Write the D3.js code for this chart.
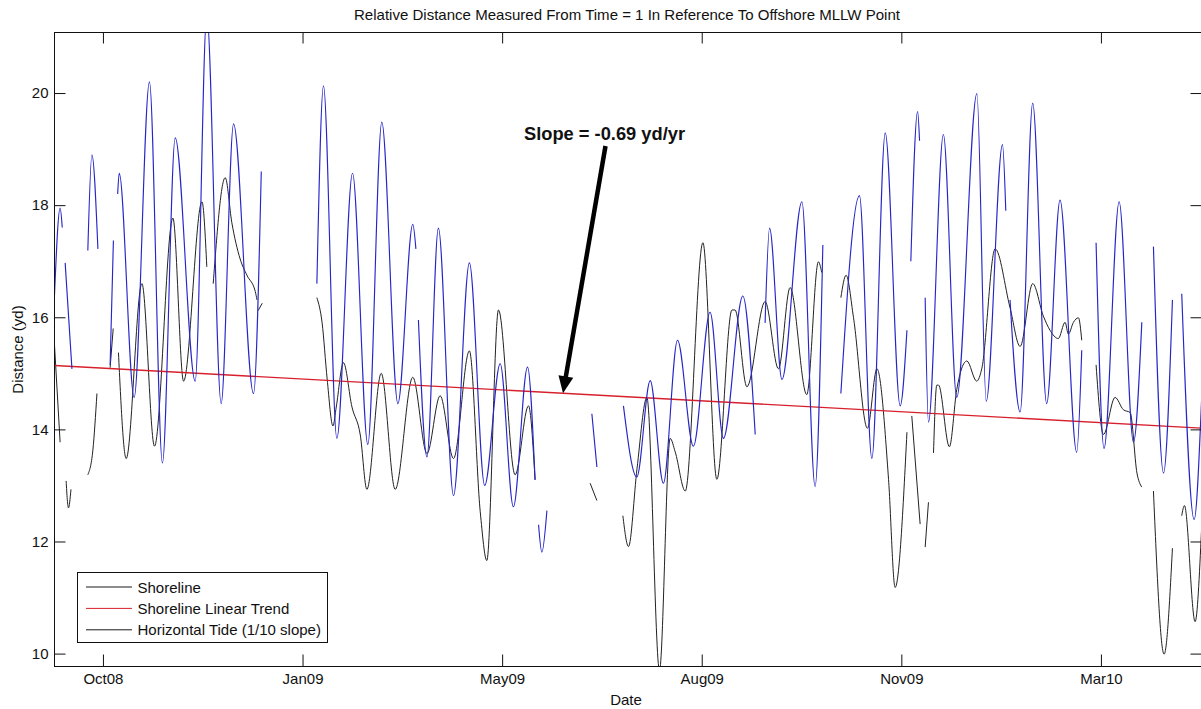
<!DOCTYPE html>
<html>
<head>
<meta charset="utf-8">
<script src="https://cdn.jsdelivr.net/npm/d3@7"></script>
<style>
  body { margin: 0; background: #fff; }
  svg { display: block; }
  text { font-family: "Liberation Sans", Arial, Helvetica, sans-serif; fill: #111; }
</style>
</head>
<body>
<svg id="chart" width="1201" height="709"></svg>
<script>
// ---- data -----------------------------------------------------------------
// Time axis: days since 17 Sep 2008 (start of record)
const recordStart = new Date(2008, 8, 17);
const recordEndDay = 591.9;

// Tick positions (days since start) – labelled with month/year
const xTickDays = [25, 128, 231, 334, 437, 540];
const yTickValues = [10, 12, 14, 16, 18, 20];
const yDomain = [9.77, 21.08];

// Horizontal tide (1/10 slope); null marks a gap in the record
const tideDays = [
  0.0, 2.9, 4.0, null,
  5.5, 9.0, null,
  17.2, 19.3, 22.4, null,
  28.7, 30.4, null,
  32.6, 33.4, 41.1, 49.0, 55.7, 62.3, 72.6, 78.6, 86.0, 92.4, 102.7, 106.7, null,
  135.4, 138.8, 145.7, 153.8, 161.7, 168.9, 177.2, 184.9, 186.5, null,
  187.8, 192.2, 198.1, 205.9, 214.1, 222.0, 230.0, 236.8, 244.1, 248.0, null,
  249.8, 251.5, 254.1, null,
  277.3, 279.9, null,
  293.6, 300.5, 307.4, 314.2, 321.5, 329.7, 338.3, 345.2, 355.2, 361.6, null,
  366.7, 369.0, 375.4, 385.7, 392.5, 396.5, null,
  405.8, 415.4, 421.8, 428.7, 436.4, 439.9, null,
  441.9, 445.4, 446.4, null,
  449.3, 451.0, 458.7, 465.6, 476.0, 480.8, 489.2, 490.9, null,
  493.1, 498.3, 504.8, 512.0, 518.9, 527.5, 530.1, null,
  537.5, 541.6, 549.4, 556.8, 561.1, null,
  567.1, 572.3, 576.9, null,
  581.7, 588.1, 591.9
];
const tideValues = [
  16.4, 17.95, 17.6, null,
  16.97, 15.08, null,
  17.19, 18.9, 17.22, null,
  15.15, 17.37, null,
  18.2, 18.57, 14.57, 20.2, 13.4, 19.2, 14.86, 21.4, 14.46, 19.45, 14.64, 18.6, null,
  16.6, 20.13, 13.84, 18.57, 13.73, 19.48, 14.46, 17.66, 17.22, null,
  15.95, 13.51, 17.59, 12.82, 16.97, 13.0, 15.17, 12.62, 15.11, 13.1, null,
  12.3, 11.81, 12.55, null,
  14.28, 13.33, null,
  14.42, 13.15, 14.87, 13.04, 15.59, 13.7, 16.09, 13.84, 16.38, 13.91, null,
  15.9, 17.59, 14.89, 18.06, 12.98, 17.29, null,
  14.64, 18.17, 13.48, 19.29, 14.42, 15.77, null,
  17.0, 19.67, 19.15, null,
  16.35, 14.13, 19.26, 14.57, 19.99, 14.5, 19.08, 17.9, null,
  16.31, 14.31, 19.82, 14.46, 18.09, 13.59, 15.41, null,
  17.33, 13.66, 18.06, 13.77, 15.91, null,
  17.26, 13.22, 16.31, null,
  16.42, 12.39, 14.5
];

// Shoreline position; null marks a gap in the record
const shoreDays = [
  0.0, 2.9, null,
  6.0, 7.2, 8.5, null,
  17.2, 19.8, 21.9, null,
  28.7, 30.3, null,
  33.0, 37.0, 45.1, 51.6, 61.1, 66.6, 76.1, 78.6, null,
  81.9, 88.1, 91.5, 95.8, 99.3, 103.6, 104.5, null,
  105.1, 107.2, null,
  135.4, 138.1, 140.7, 143.7, 145.4, 149.1, 153.5, 157.8, 161.2, 168.6, 175.8, 184.9,
  192.2, 199.0, 205.9, 214.1, 219.7, 223.1, 229.1, 237.7, 244.6, 248.0, null,
  276.4, 279.9, null,
  293.3, 296.2, 300.6, 305.7, 312.2, 317.7, 320.3, 325.5, 334.6, 341.8, 349.6, 351.2,
  357.3, 366.7, 373.6, 379.6, 388.2, 394.2, 395.9, null,
  405.8, 408.5, 412.3, 419.5, 424.4, 430.4, 433.8, 439.9, null,
  442.4, 446.7, null,
  449.3, 451.0, null,
  453.6, 455.3, 456.2, 461.8, 465.6, 470.8, 475.9, 478.5, 485.4, 493.1, 498.3, 504.8,
  510.3, 513.7, 518.0, 521.5, 523.2, 525.8, 528.4, 530.1, null,
  537.5, 541.3, 547.3, 551.6, 555.1, 558.6, 561.1, null,
  567.1, 572.6, 576.9, null,
  581.7, 583.1, 588.6, 591.9
];
const shoreValues = [
  15.5, 13.77, null,
  13.08, 12.6, 12.93, null,
  13.19, 13.63, 14.64, null,
  15.1, 15.8, null,
  15.37, 13.48, 16.6, 13.7, 17.77, 14.86, 18.06, 16.9, null,
  16.6, 18.49, 17.69, 17.04, 16.75, 16.46, 16.31, null,
  16.12, 16.25, null,
  16.35, 15.9, 14.9, 14.06, 14.4, 15.19, 14.4, 13.9, 12.93, 15.0, 12.93, 14.93,
  13.57, 14.6, 13.48, 15.4, 12.53, 11.66, 16.13, 13.19, 14.42, 13.1, null,
  13.04, 12.73, null,
  12.46, 11.91, 13.3, 14.57, 9.7, 13.84, 13.6, 12.9, 17.33, 13.11, 16.13, 16.13,
  14.76, 16.28, 15.08, 16.53, 14.62, 16.99, 16.8, null,
  16.35, 16.75, 16.0, 14.02, 15.08, 13.11, 11.18, 13.95, null,
  14.24, 12.31, null,
  11.9, 12.7, null,
  13.58, 14.79, 14.79, 13.69, 14.71, 15.22, 14.86, 15.08, 17.22, 16.17, 15.48, 16.6,
  16.02, 15.77, 15.62, 15.91, 15.7, 15.91, 15.99, 15.59, null,
  15.15, 13.91, 14.57, 14.35, 14.3, 13.22, 12.97, null,
  12.9, 9.99, 11.88, null,
  12.46, 12.64, 10.57, 12.2
];

// Linear trend of the shoreline: intercept at record start and slope (yd/yr)
const trendIntercept = 15.14;
const trendSlope = -0.69;
const trendDays = [0, recordEndDay];
const trendValues = trendDays.map(d => trendIntercept + trendSlope * d / 365.25);

// Annotation: the arrow points at the trend line on this day
const arrowDay = 262.4;
const slopeLabel = "Slope = -0.69 yd/yr";

const legendLabels = ["Shoreline", "Shoreline Linear Trend", "Horizontal Tide (1/10 slope)"];
const legendColors = ["#1a1a1a", "#d8202c", "#1a1a1a"];

// ---- layout ---------------------------------------------------------------
const plot = { left: 54.5, right: 1201.5, top: 32.5, bottom: 666.5 };
const dayToDate = d => new Date(recordStart.getTime() + d * 864e5);

const svg = d3.select("#chart");

const x = d3.scaleTime()
  .domain([recordStart, dayToDate(recordEndDay)])
  .range([plot.left, plot.right]);
const y = d3.scaleLinear()
  .domain(yDomain)
  .range([plot.bottom, plot.top]);

const zip = (days, vals) => days.map((d, i) => ({ d, v: vals[i] }));

svg.append("clipPath").attr("id", "plotClip")
  .append("rect")
  .attr("x", plot.left).attr("y", plot.top)
  .attr("width", plot.right - plot.left).attr("height", plot.bottom - plot.top);

const line = d3.line()
  .defined(p => p.v !== null && p.d !== null)
  .x(p => x(dayToDate(p.d)))
  .y(p => y(p.v))
  .curve(d3.curveMonotoneX);

const marks = svg.append("g").attr("clip-path", "url(#plotClip)");

// Shoreline (black)
marks.append("path")
  .datum(zip(shoreDays, shoreValues))
  .attr("fill", "none")
  .attr("stroke", "#222")
  .attr("stroke-width", 1)
  .attr("d", line);

// Shoreline linear trend (red)
marks.append("path")
  .datum(zip(trendDays, trendValues))
  .attr("fill", "none")
  .attr("stroke", "#d8202c")
  .attr("stroke-width", 1.3)
  .attr("d", d3.line().x(p => x(dayToDate(p.d))).y(p => y(p.v)));

// Horizontal tide (blue)
marks.append("path")
  .datum(zip(tideDays, tideValues))
  .attr("fill", "none")
  .attr("stroke", "#2626c8")
  .attr("stroke-width", 1.15)
  .attr("d", line);

// ---- axes (box with inward ticks) -----------------------------------------
const fmt = d3.timeFormat("%b%y");
const xTicks = xTickDays.map(dayToDate);

function styleAxis(g) {
  g.select(".domain").remove();
  g.selectAll(".tick line").attr("stroke", "#111").attr("stroke-width", 1);
  g.selectAll(".tick text").style("font-size", "15px").attr("fill", "#111");
}

svg.append("g")
  .attr("transform", `translate(0,${plot.bottom})`)
  .call(d3.axisBottom(x).tickValues(xTicks).tickFormat(fmt).tickSizeInner(-12).tickSizeOuter(0).tickPadding(7))
  .call(styleAxis);

svg.append("g")
  .attr("transform", `translate(0,${plot.top})`)
  .call(d3.axisTop(x).tickValues(xTicks).tickFormat("").tickSizeInner(-11).tickSizeOuter(0))
  .call(styleAxis);

svg.append("g")
  .attr("transform", `translate(${plot.left},0)`)
  .call(d3.axisLeft(y).tickValues(yTickValues).tickFormat(d3.format("d")).tickSizeInner(-11).tickSizeOuter(0).tickPadding(6))
  .call(styleAxis);

svg.append("g")
  .attr("transform", `translate(${plot.right},0)`)
  .call(d3.axisRight(y).tickValues(yTickValues).tickFormat("").tickSizeInner(-11).tickSizeOuter(0))
  .call(styleAxis);

svg.append("rect")
  .attr("x", plot.left).attr("y", plot.top)
  .attr("width", plot.right - plot.left).attr("height", plot.bottom - plot.top)
  .attr("fill", "none").attr("stroke", "#111").attr("stroke-width", 1);

// ---- titles ---------------------------------------------------------------
svg.append("text")
  .attr("x", 627).attr("y", 20)
  .attr("text-anchor", "middle")
  .style("font-size", "15px")
  .attr("textLength", 546).attr("lengthAdjust", "spacingAndGlyphs")
  .text("Relative Distance Measured From Time = 1 In Reference To Offshore MLLW Point");

svg.append("text")
  .attr("x", 626).attr("y", 705)
  .attr("text-anchor", "middle")
  .style("font-size", "15px")
  .text("Date");

svg.append("text")
  .attr("transform", `translate(23,${(plot.top + plot.bottom) / 2}) rotate(-90)`)
  .attr("text-anchor", "middle")
  .style("font-size", "15px")
  .text("Distance (yd)");

// ---- slope annotation -----------------------------------------------------
const tipX = x(dayToDate(arrowDay));
const tipY = y(trendIntercept + trendSlope * arrowDay / 365.25);
const labelX = 604.5, labelY = 139.5;
const tailX = 605.5, tailY = 146;

svg.append("text")
  .attr("x", labelX).attr("y", labelY)
  .attr("text-anchor", "middle")
  .style("font-size", "18px").style("font-weight", "bold")
  .attr("textLength", 161).attr("lengthAdjust", "spacingAndGlyphs")
  .text(slopeLabel);

{
  const dx = tipX - tailX, dy = tipY - tailY;
  const len = Math.hypot(dx, dy);
  const ux = dx / len, uy = dy / len;
  const headLen = 17, headHalf = 7.5;
  const bx = tipX - ux * headLen, by = tipY - uy * headLen;
  svg.append("line")
    .attr("x1", tailX).attr("y1", tailY)
    .attr("x2", bx + ux * 2).attr("y2", by + uy * 2)
    .attr("stroke", "#000").attr("stroke-width", 4.5);
  svg.append("path")
    .attr("d", `M${tipX},${tipY}L${bx - uy * headHalf},${by + ux * headHalf}L${bx + uy * headHalf},${by - ux * headHalf}Z`)
    .attr("fill", "#000");
}

// ---- legend ---------------------------------------------------------------
const legend = svg.append("g");
legend.append("rect")
  .attr("x", 77.5).attr("y", 572.5).attr("width", 250).attr("height", 70)
  .attr("fill", "#fff").attr("stroke", "#111").attr("stroke-width", 1);
legendLabels.forEach((label, i) => {
  const ly = 587 + i * 21.4;
  legend.append("line")
    .attr("x1", 86).attr("x2", 132).attr("y1", ly).attr("y2", ly)
    .attr("stroke", legendColors[i]).attr("stroke-width", 1);
  legend.append("text")
    .attr("x", 137.5).attr("y", ly + 5.5)
    .style("font-size", "15px")
    .text(label);
});
</script>
</body>
</html>
